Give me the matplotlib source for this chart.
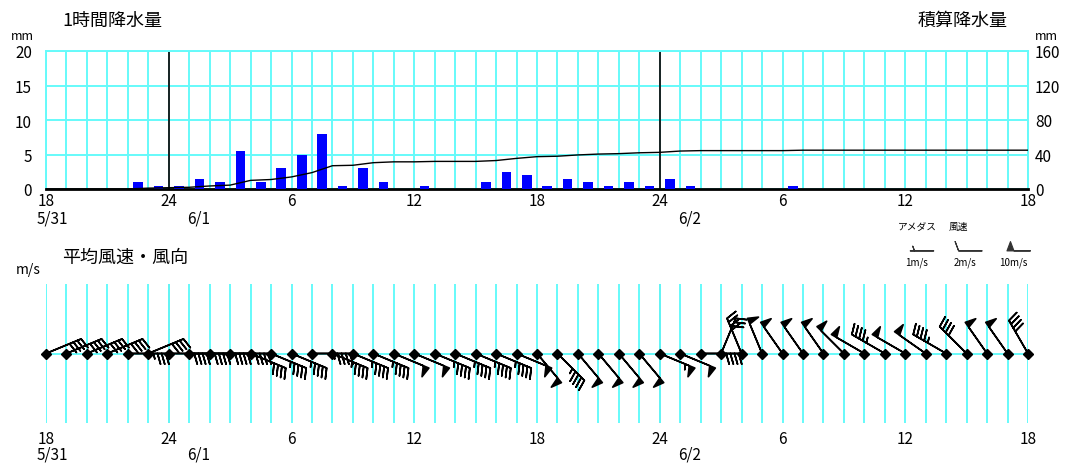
import numpy as np
import matplotlib
matplotlib.use('Agg')
import matplotlib.pyplot as plt

plt.rcParams['font.family'] = ['Noto Sans CJK JP', 'DejaVu Sans']

# <----------------------------- data ----------------------------->
# hours counted from 18:00 5/31 up to 18:00 6/2
hours = np.arange(49)
hour_labels = ['18', '24', '6', '12', '18', '24', '6', '12', '18']
date_labels = ['5/31', '6/1', '6/2']
date_hours = [0, 6, 30]
midnight_hours = [6, 30]

# 1 hour precipitation (mm), interval i = hour i .. i+1
rain = [0, 0, 0, 0, 1.0, 0.5, 0.5, 1.5, 1.0, 5.5, 1.0, 3.0, 5.0, 8.0, 0.5, 3.0,
        1.0, 0, 0.5, 0, 0, 1.0, 2.5, 2.0, 0.5, 1.5, 1.0, 0.5, 1.0, 0.5, 1.5, 0.5,
        0, 0, 0, 0, 0.5, 0, 0, 0, 0, 0, 0, 0, 0, 0, 0, 0]

# wind direction (deg, from) and mean speed (m/s) each hour
wind_dir = [67.5, 67.5, 67.5, 67.5, 90, 67.5,
            90, 90, 90, 90, 112.5, 112.5,
            112.5, 90, 112.5, 112.5, 112.5, 112.5,
            112.5, 112.5, 112.5, 112.5, 112.5, 112.5,
            140, 135, 140, 140, 140, 140,
            112.5, 112.5, 90, 22.5, 337.5, 337.5,
            325, 325, 325, 315, 300, 300,
            300, 305, 300, 315, 325, 325,
            330]
wind_spd = [8, 8, 8, 8, 7, 8,
            8, 8, 8, 8, 8, 9,
            9, 9, 9, 9, 9, 10,
            10, 9, 9, 9, 9, 10,
            10, 9, 10, 10, 10, 10,
            11, 10, 8, 6, 8, 10,
            10, 10, 10, 10, 10, 9,
            10, 10, 9, 8, 10, 10,
            8]

# legend samples
legend_spd = [1, 2, 10]
legend_lab = ['1m/s', '2m/s', '10m/s']

# <----------------------------- style ----------------------------->
W, H = 1070, 464
cyan = '#66fafa'
bar_blue = '#0000ff'
incr = dict(half=1, full=2, flag=10)


def fx(px):
    return px / W


def fy(py):
    return 1 - py / H


fig = plt.figure(figsize=(W / 100, H / 100), dpi=100)

# <----------------------------- precipitation ----------------------------->
ax = fig.add_axes([fx(46), fy(190), 982 / W, 138 / H])
ax.set_xlim(0, 48)
ax.set_ylim(0, 20)
ax.set_xticks(hours)
ax.set_yticks([0, 5, 10, 15, 20])
ax.grid(True, color=cyan, lw=1.4, zorder=0)
ax.set_axisbelow(True)
ax.tick_params(length=0, labelbottom=False, labelsize=11, pad=10)
for s in ['left', 'right', 'top']:
    ax.spines[s].set_color(cyan)
    ax.spines[s].set_linewidth(1.4)
ax.spines['bottom'].set_color('black')
ax.spines['bottom'].set_linewidth(2)

for m in midnight_hours:
    ax.axvline(m, color='#111111', lw=1.3, zorder=2)

ax.bar(np.arange(len(rain)) + 0.5, rain, width=0.47, color=bar_blue, zorder=3)

ax2 = ax.twinx()
ax2.set_ylim(0, 160)
ax2.set_yticks([0, 40, 80, 120, 160])
ax2.tick_params(length=0, labelsize=11, pad=5)
for s in ax2.spines.values():
    s.set_visible(False)
cum = np.concatenate([[0], np.cumsum(rain)])
ax2.plot(hours, cum, color='black', lw=1, zorder=4)

lab_pos = hours[::6]
for h, lab in zip(lab_pos, hour_labels):
    ax.text(h, -0.5, lab, ha='center', va='top', fontsize=11)

fig.text(fx(22), fy(37), 'mm', ha='center', va='center', fontsize=9)
fig.text(fx(1046), fy(37), 'mm', ha='center', va='center', fontsize=9)
fig.text(fx(62), fy(21), '1時間降水量', ha='left', va='center', fontsize=13)
fig.text(fx(1008), fy(21), '積算降水量', ha='right', va='center', fontsize=13)

# <----------------------------- wind ----------------------------->
ax3 = fig.add_axes([fx(46), fy(424), 982 / W, 139 / H])
ax3.set_xlim(0, 48)
ax3.set_ylim(-1, 1)
ax3.set_xticks(hours)
ax3.grid(True, axis='x', color=cyan, lw=1.4, zorder=0)
ax3.axhline(0, color=cyan, lw=1.4, zorder=0)
ax3.tick_params(length=0, labelbottom=False, labelleft=False)
for s in ax3.spines.values():
    s.set_visible(False)
for m in midnight_hours:
    ax3.axvline(m, color='#111111', lw=1.3, zorder=1)

rad = np.deg2rad(wind_dir)
spd = np.array(wind_spd, dtype=float)
u = -spd * np.sin(rad)
v = -spd * np.cos(rad)
ax3.barbs(hours, np.zeros(len(hours)), u, v, length=7.4, pivot='tip',
          barb_increments=incr,
          sizes=dict(spacing=0.11, height=0.28, width=0.16),
          color='black', lw=1.2, clip_on=False, zorder=3)
ax3.plot(hours, np.zeros(len(hours)), 'D', ms=5, color='black', zorder=4, clip_on=False)

for h, lab in zip(lab_pos, hour_labels):
    ax3.text(h, -1.1, lab, ha='center', va='top', fontsize=11)

fig.text(fx(28), fy(270), 'm/s', ha='center', va='center', fontsize=10)
fig.text(fx(62), fy(258), '平均風速・風向', ha='left', va='center', fontsize=13)

# date labels under both panels
for d, lab in zip(date_hours, date_labels):
    off = -0.45 if d == 0 else 0.9
    ax.text(d + off, -2.9, lab, ha='left', va='top', fontsize=11)
    ax3.text(d + off, -1.33, lab, ha='left', va='top', fontsize=11)

# <----------------------------- legend ----------------------------->
lax = fig.add_axes([fx(895), fy(275), 145 / W, 55 / H])
lax.set_xlim(0, 3)
lax.set_ylim(0, 1)
lax.axis('off')
lx = np.arange(len(legend_spd)) + 0.8
lax.barbs(lx, np.full(3, 0.42), legend_spd, np.zeros(3), length=5.8, pivot='tip',
          barb_increments=incr,
          sizes=dict(spacing=0.12, height=0.4, width=0.3),
          color='#333333', lw=0.8, clip_on=False)
for x, lab in zip(lx, legend_lab):
    lax.text(x - 0.35, 0.22, lab, ha='center', va='center', fontsize=7)
lax.text(0.05, 0.88, 'アメダス', ha='left', va='center', fontsize=7)
lax.text(1.1, 0.88, '風速', ha='left', va='center', fontsize=7)

fig.savefig('out.png', dpi=100)
